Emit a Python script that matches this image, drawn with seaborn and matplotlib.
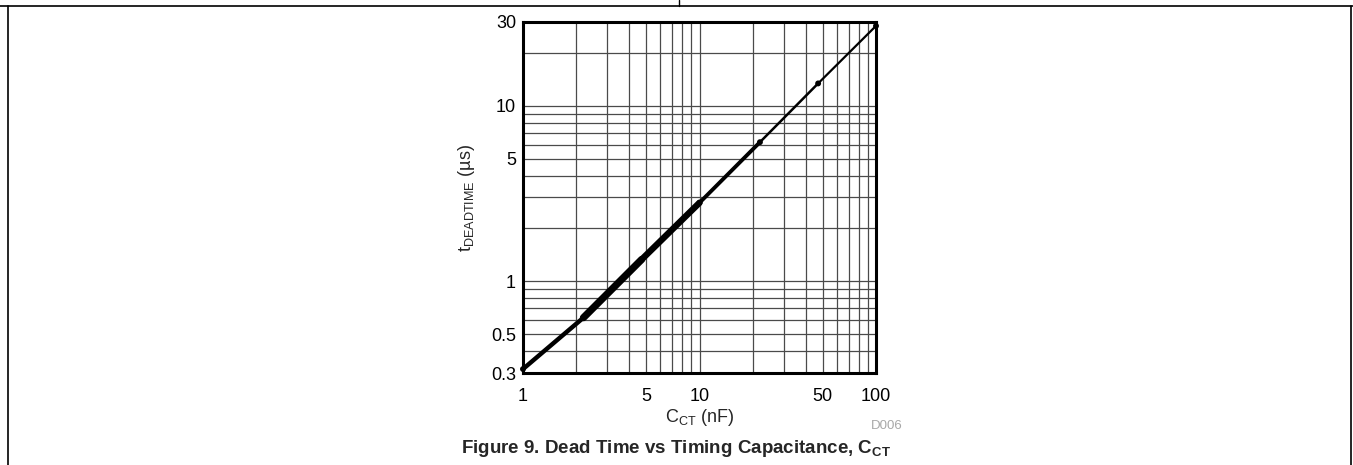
import numpy as np
import pandas as pd
import seaborn as sns
import matplotlib.pyplot as plt
from matplotlib.lines import Line2D
from matplotlib.ticker import FixedLocator, NullFormatter

# Données
c_ct = [1, 2.2, 4.7, 10, 22, 47, 100]            # nF
t_dead = [0.316, 0.62, 1.33, 2.8, 6.2, 13.4, 28.5]  # us
x_ticks = [1, 5, 10, 50, 100]
x_tick_labels = ['1', '5', '10', '50', '100']
y_ticks = [0.3, 0.5, 1, 5, 10, 30]
y_tick_labels = ['0.3', '0.5', '1', '5', '10', '30']

df = pd.DataFrame({'C_CT': c_ct, 't_DEADTIME': t_dead})

sns.set_style('white')
plt.rcParams['font.family'] = ['Liberation Sans', 'DejaVu Sans']
plt.rcParams['mathtext.fontset'] = 'custom'
plt.rcParams['mathtext.rm'] = 'Liberation Sans'
plt.rcParams['mathtext.bf'] = 'Liberation Sans:bold'

fig = plt.figure(figsize=(13.53, 4.65), dpi=100)
ax = fig.add_axes([523 / 1353, 92 / 465, 353 / 1353, 351 / 465])

ax.set_xscale('log')
ax.set_yscale('log')
ax.set_xlim(1, 100)
ax.set_ylim(0.3, 30)

# grille majeure / mineure
x_grid = [v * d for d in (1, 10) for v in range(2, 10)]
y_grid = [v * d for d in (0.1, 1, 10) for v in range(1, 10)]
y_grid = [v for v in y_grid if 0.3 < v < 30]
ax.xaxis.set_major_locator(FixedLocator(x_ticks))
ax.yaxis.set_major_locator(FixedLocator(y_ticks))
ax.set_xticklabels(x_tick_labels)
ax.set_yticklabels(y_tick_labels)
ax.xaxis.set_minor_locator(FixedLocator(x_grid))
ax.yaxis.set_minor_locator(FixedLocator(y_grid))
ax.xaxis.set_minor_formatter(NullFormatter())
ax.yaxis.set_minor_formatter(NullFormatter())
ax.grid(True, which='both', color='#4a4a4a', linewidth=0.9)
ax.tick_params(which='both', length=0, labelsize=13, colors='black')
ax.tick_params(axis='y', pad=5)
ax.tick_params(axis='x', pad=11)

# courbe : plus épaisse entre 2 et 10 nF (faisceau de courbes superposées)
seg_widths = [3.2, 5.2, 4.6, 2.8, 1.8, 1.6]
for i, w in enumerate(seg_widths):
    sns.lineplot(data=df.iloc[i:i + 2], x='C_CT', y='t_DEADTIME', ax=ax,
                 color='black', linewidth=w, clip_on=False, zorder=5,
                 solid_capstyle='round')
sns.scatterplot(data=df, x='C_CT', y='t_DEADTIME', ax=ax, color='black',
                s=18, edgecolor='none', clip_on=False, zorder=6)

for sp in ax.spines.values():
    sp.set_visible(True)
    sp.set_color('black')
    sp.set_linewidth(2.2)

ax.set_xlabel(r'C$_{\mathrm{CT}}$ (nF)', fontsize=13, labelpad=1)
ax.set_ylabel(r't$_{\mathrm{DEADTIME}}$ (µs)', fontsize=13, labelpad=10)

fig.text(887 / 1353, 1 - 426 / 465, 'D006', fontsize=9.5, color='#a8a8a8',
         ha='center', va='center')
fig.text(0.5, 1 - 448 / 465,
         r'Figure 9. Dead Time vs Timing Capacitance, C$_{\mathbf{CT}}$',
         fontsize=13.5, fontweight='bold', ha='center', va='center')

# bordures du tableau
fig.add_artist(Line2D([0, 1], [1 - 6 / 465] * 2, color='black', lw=1.2, transform=fig.transFigure))
fig.add_artist(Line2D([679 / 1353] * 2, [1 - 6 / 465, 1], color='black', lw=1.0, transform=fig.transFigure))
fig.add_artist(Line2D([8 / 1353] * 2, [0, 1 - 6 / 465], color='black', lw=1.2, transform=fig.transFigure))
fig.add_artist(Line2D([1351 / 1353] * 2, [0, 1 - 6 / 465], color='black', lw=1.2, transform=fig.transFigure))

fig.savefig('out.png', dpi=100)
